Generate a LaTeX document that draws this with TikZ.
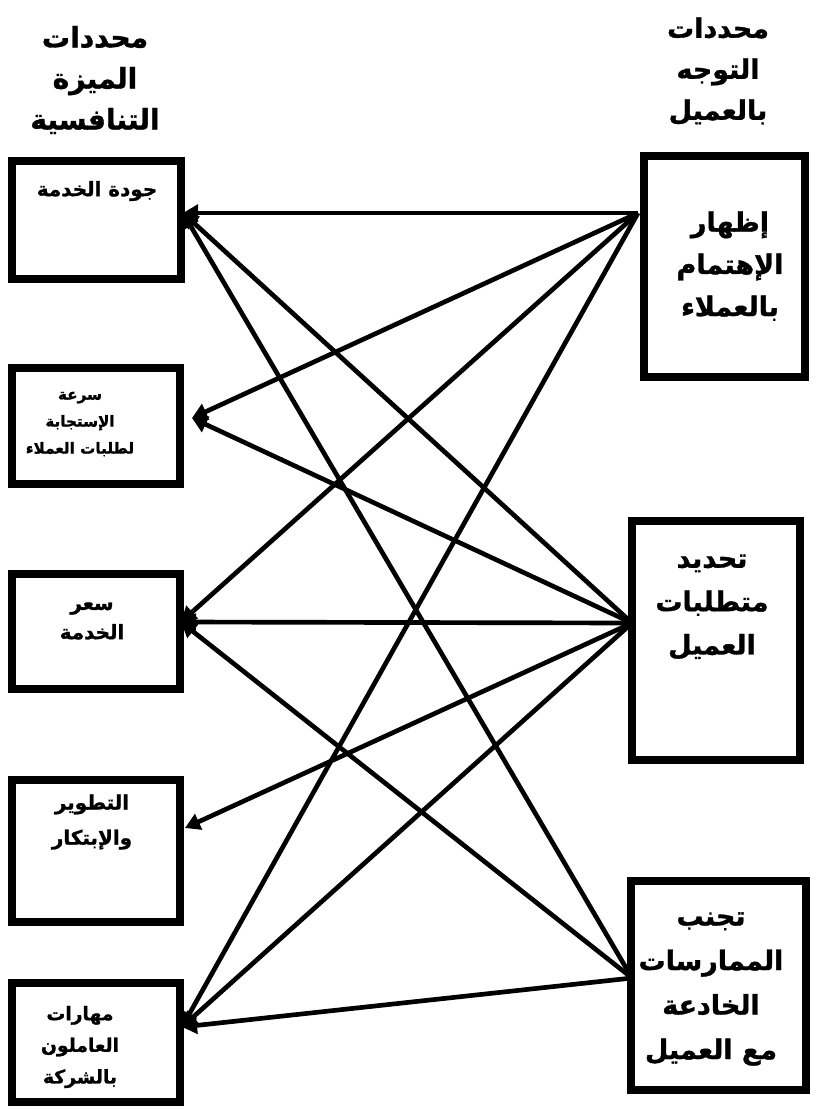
\documentclass[tikz,border=0pt]{standalone}
\usepackage{fontspec}
\newfontfamily\arabicfont[Script=Arabic, BoldFeatures={FakeBold=1.2}]{DejaVu Sans}
\TeXXeTstate=1
\usetikzlibrary{arrows.meta}
\newcommand{\rl}[1]{\beginR #1\endR}

\begin{document}
\begin{tikzpicture}[x=0.03cm, y=-0.03cm,
    frame/.style={line width=0.25cm},
    link/.style={line width=0.14cm, -{Triangle[length=0.45cm, width=0.5cm]}},
    txt/.style 2 args={align=center, inner sep=0pt, font=\arabicfont\bfseries\fontsize{#1}{#2}\selectfont}]
  \useasboundingbox (0,0) rectangle (813,1108);
  %\fill[white] (0,0) rectangle (813,1108);

  % titles
  \node[txt={24}{35}] (titleL) at (95,80) {\rl{محددات}\\\rl{الميزة}\\\rl{التنافسية}};
  \node[txt={23}{35}] (titleR) at (718,71) {\rl{محددات}\\\rl{التوجه}\\\rl{بالعميل}};

  % left boxes
  \draw[frame] (12,161) rectangle (181,279);
  \draw[frame] (12,368) rectangle (180,484);
  \draw[frame] (12,574) rectangle (180,689);
  \draw[frame] (12,780) rectangle (180,922);
  \draw[frame] (12,983) rectangle (180,1102);
  \node[txt={17}{25}] (quality) at (97,191) {\rl{جودة الخدمة}};
  \node[txt={13}{23}] (speed) at (80,424) {\rl{سرعة}\\\rl{الإستجابة}\\\rl{لطلبات العملاء}};
  \node[txt={17}{25}] (price) at (92,621) {\rl{سعر}\\\rl{الخدمة}};
  \node[txt={17}{30}] (innov) at (92,822) {\rl{التطوير}\\\rl{والإبتكار}};
  \node[txt={16}{27}] (skills) at (80,1047) {\rl{مهارات}\\\rl{العاملون}\\\rl{بالشركة}};

  % right boxes
  \draw[frame] (644,156) rectangle (805,377);
  \draw[frame] (632,521) rectangle (800,760);
  \draw[frame] (631,881) rectangle (806,1090);
  \node[txt={23}{36}] (care) at (730,266) {\rl{إظهار}\\\rl{الإهتمام}\\\rl{بالعملاء}};
  \node[txt={23}{37}] (needs) at (712,607) {\rl{تحديد}\\\rl{متطلبات}\\\rl{العميل}};
  \node[txt={23}{38}] (honest) at (711,989) {\rl{تجنب}\\\rl{الممارسات}\\\rl{الخادعة}\\\rl{مع العميل}};

  % end points of the links
  \coordinate (r1) at (638,213);
  \coordinate (r2) at (632,623);
  \coordinate (r3) at (632,978);
  \coordinate (l1) at (183,213);
  \coordinate (l2) at (192,418);
  \coordinate (l3) at (181,622);
  \coordinate (l4) at (185,828);
  \coordinate (l5) at (182,1027);

  \draw[link] (r1) -- (l1);
  \draw[link] (r1) -- (l2);
  \draw[link] (r1) -- (l3);
  \draw[link] (r1) -- (l5);
  \draw[link] (r2) -- (l1);
  \draw[link] (r2) -- (l2);
  \draw[link] (r2) -- (l3);
  \draw[link] (r2) -- (l4);
  \draw[link] (r2) -- (l5);
  \draw[link] (r3) -- (l1);
  \draw[link] (r3) -- (l3);
  \draw[link] (r3) -- (l5);
\end{tikzpicture}
\end{document}
